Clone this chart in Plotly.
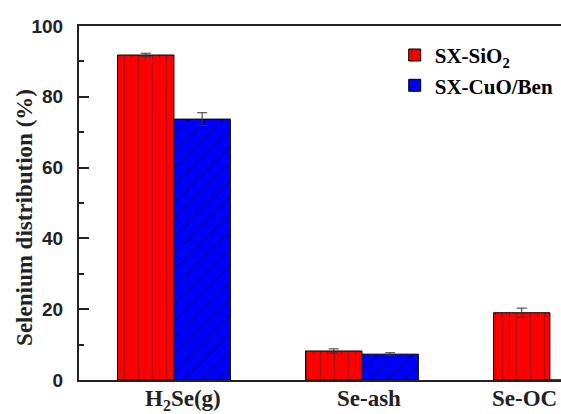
import plotly.graph_objects as go

categories = ["H<sub>2</sub>Se(g)", "Se-ash", "Se-OC"]
series_names = ["SX-SiO<sub>2</sub>", "SX-CuO/Ben"]
sio2_values = [91.8, 8.2, 19.0]
sio2_errors = [0.5, 0.6, 1.3]
cuo_values = [73.7, 7.3, 0.0]
cuo_errors = [1.8, 0.4, 0.0]
y_ticks = [0, 20, 40, 60, 80, 100]
y_title = "Selenium distribution (%)"
label_shifts = [9, 7, -25]

fig = go.Figure()
fig.add_trace(go.Bar(
    x=categories, y=sio2_values, name="<b>" + series_names[0] + "</b>",
    marker=dict(color="#ff0000", line=dict(color="black", width=1),
                pattern=dict(shape="|", fgcolor="#3a0000", size=7, solidity=0.12, fillmode="overlay")),
    error_y=dict(type="data", array=sio2_errors, color="#333333", thickness=1, width=5),
))
fig.add_trace(go.Bar(
    x=categories, y=cuo_values, name="<b>" + series_names[1] + "</b>",
    marker=dict(color="#0000ff", line=dict(color="black", width=1),
                pattern=dict(shape="/", fgcolor="#000030", size=12, solidity=0.12, fillmode="overlay")),
    error_y=dict(type="data", array=cuo_errors, color="#333333", thickness=1, width=5),
))

for cat, sh in zip(categories, label_shifts):
    fig.add_annotation(x=cat, xref="x", y=0, yref="paper", yanchor="top", yshift=-4, xshift=sh,
                       text="<b>" + cat + "</b>", showarrow=False,
                       font=dict(family="Liberation Serif", size=23, color="#222222"))

fig.add_annotation(x=-0.112, xref="paper", y=0.458, yref="paper", textangle=-90,
                   xanchor="center", yanchor="middle", showarrow=False,
                   text="<b>" + y_title + "</b>",
                   font=dict(family="Liberation Serif", size=23, color="#222222"))

fig.update_layout(
    width=561, height=414,
    margin=dict(l=79, r=0, t=26, b=34),
    paper_bgcolor="white", plot_bgcolor="white",
    barmode="group", bargap=0.4, bargroupgap=0,
    showlegend=True,
    legend=dict(x=0.655, y=0.975, xanchor="left", yanchor="top",
                font=dict(family="Liberation Serif", size=21, color="black"),
                bgcolor="rgba(0,0,0,0)", tracegroupgap=2),
    xaxis=dict(range=[-0.505, 2.059], showline=True, linecolor="#222222", linewidth=2,
               mirror=True, ticks="", showgrid=False, showticklabels=False, automargin=False),
    yaxis=dict(range=[0, 100], tickvals=y_ticks, ticktext=["<b>" + str(v) + "</b>" for v in y_ticks],
               showline=True, linecolor="#222222", linewidth=2, automargin=False,
               ticks="inside", ticklen=10, tickwidth=1.5, tickcolor="#222222", showgrid=False,
               ticklabelstandoff=10,
               minor=dict(ticks="inside", ticklen=5, tickwidth=1.5, tickcolor="#222222", dtick=10),
               tickfont=dict(family="Liberation Sans", size=19, color="#222222")),
)

fig.write_html("out.html")
